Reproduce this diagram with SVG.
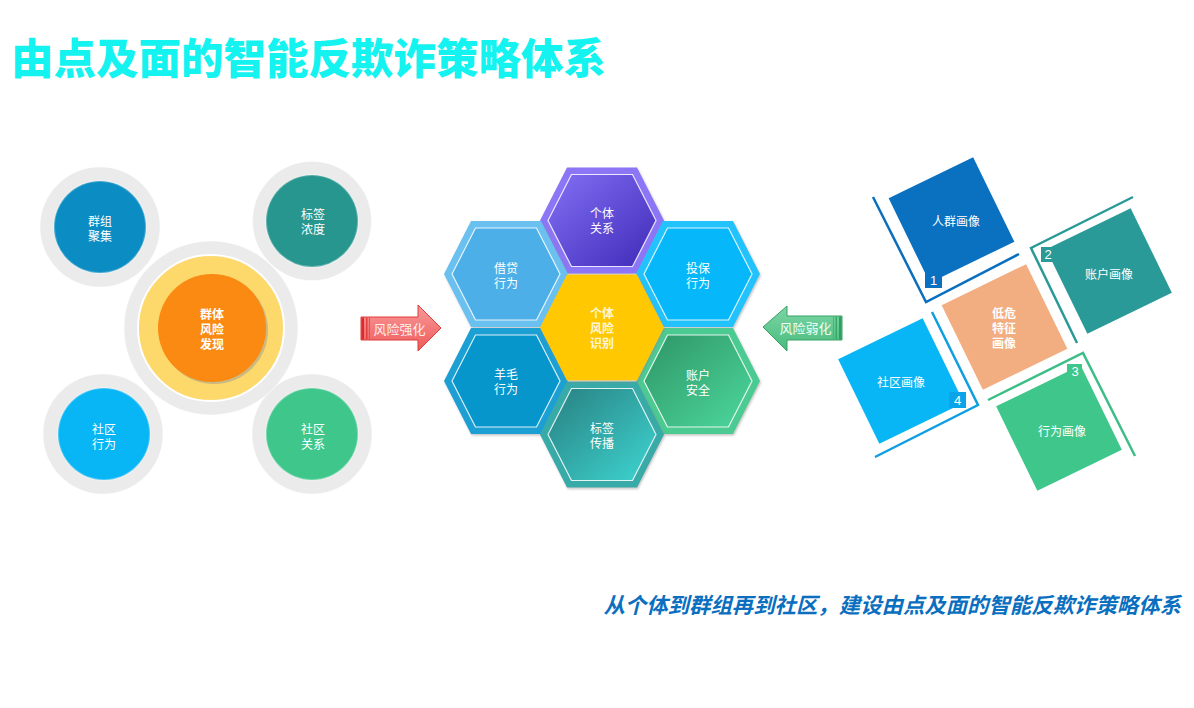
<svg xmlns="http://www.w3.org/2000/svg" width="1194" height="708" viewBox="0 0 1194 708">
<style>
.t{font-family:"Noto Sans CJK SC","Liberation Sans",sans-serif;fill:#fff;text-anchor:middle;dominant-baseline:central}
.s12{font-size:12px}
.b{font-weight:700}
.seam{fill:#EBEBEB;stroke:#fff;stroke-width:1.2;stroke-opacity:.4}
.rim{stroke:#fff;stroke-opacity:.25;stroke-width:2}
.inl{fill:none;stroke:#fff;stroke-opacity:.85;stroke-width:1.2}
.num{font-family:"Liberation Sans","DejaVu Sans",sans-serif;font-size:13px;fill:#fff;text-anchor:middle;dominant-baseline:central}
.br{fill:none;stroke-width:2.5}
</style>
<defs>
<path id="hexO" d="M-62,0 L-35,-53 L35,-53 L62,0 L35,53 L-35,53 Z"/>
<path id="hexI" d="M-54,0 L-30.5,-46 L30.5,-46 L54,0 L30.5,46 L-30.5,46 Z"/>
<rect id="sq" x="-47" y="-47" width="94" height="94"/>
<linearGradient id="gPur" x1="0" y1="0" x2="1" y2="1"><stop offset="0" stop-color="#8270F4"/><stop offset="1" stop-color="#3F2AB8"/></linearGradient>
<linearGradient id="gGrn" x1="0" y1="0" x2="1" y2="1"><stop offset="0" stop-color="#2E9566"/><stop offset="1" stop-color="#4DD89E"/></linearGradient>
<linearGradient id="gTeal" x1="0" y1="0" x2="1" y2="1"><stop offset="0" stop-color="#287F80"/><stop offset="1" stop-color="#3ED6D2"/></linearGradient>
<linearGradient id="gRed" x1="0" y1="0" x2="0" y2="1"><stop offset="0" stop-color="#F89A9A"/><stop offset="1" stop-color="#EF5B5B"/></linearGradient>
<linearGradient id="gGa" x1="0" y1="0" x2="0" y2="1"><stop offset="0" stop-color="#7DD5A4"/><stop offset="1" stop-color="#48BC7E"/></linearGradient>
<filter id="sh" x="-20%" y="-20%" width="140%" height="140%"><feDropShadow dx="1" dy="1.5" stdDeviation="1" flood-color="#888" flood-opacity=".5"/></filter>
</defs>

<text x="11" y="74" style="font-family:'Noto Sans CJK SC','Liberation Sans',sans-serif;font-size:42.5px;font-weight:900;fill:#14F3F0">由点及面的智能反欺诈策略体系</text>

<!-- left cluster -->
<g id="ring-bg">
<circle class="seam" cx="100" cy="227" r="60"/>
<circle class="seam" cx="312" cy="221" r="59.5"/>
<circle class="seam" cx="103" cy="434" r="60"/>
<circle class="seam" cx="312" cy="434" r="60"/>
<circle class="seam" cx="211" cy="328" r="87"/>
</g>
<g id="n-qunti">
<circle cx="211" cy="328" r="73" fill="#FDD86B" stroke="#fff" stroke-width="2"/>
<circle cx="214" cy="330" r="54" fill="#9a9a9a" opacity=".5"/>
<circle cx="212" cy="328" r="54" fill="#FA8A12"/>
<text class="t s12 b" x="212" y="313">群体</text>
<text class="t s12 b" x="212" y="328">风险</text>
<text class="t s12 b" x="212" y="343">发现</text>
</g>
<g id="n-qunzu">
<circle class="rim" cx="100" cy="227" r="46" fill="#0B8DC3"/>
<text class="t s12" x="100" y="220">群组</text>
<text class="t s12" x="100" y="235">聚集</text>
</g>
<g id="n-biaoqian">
<circle class="rim" cx="312" cy="221" r="46" fill="#27968F"/>
<text class="t s12" x="313" y="213">标签</text>
<text class="t s12" x="313" y="228">浓度</text>
</g>
<g id="n-shequxw">
<circle class="rim" cx="104" cy="434" r="46" fill="#08B5F5"/>
<text class="t s12" x="104" y="428">社区</text>
<text class="t s12" x="104" y="443">行为</text>
</g>
<g id="n-shequgx">
<circle class="rim" cx="312" cy="434" r="46" fill="#3FC78B"/>
<text class="t s12" x="313" y="428">社区</text>
<text class="t s12" x="313" y="443">关系</text>
</g>

<!-- hexagons -->
<g id="h-top" transform="translate(602,220.5)">
<use href="#hexO" fill="#8D76F6" filter="url(#sh)"/>
<use href="#hexI" fill="url(#gPur)"/>
<use href="#hexI" class="inl"/>
<text class="t s12" x="0" y="-8">个体</text>
<text class="t s12" x="0" y="7">关系</text>
</g>
<g id="h-ul" transform="translate(506,274)">
<use href="#hexO" fill="#6AC0EF" filter="url(#sh)"/>
<use href="#hexI" fill="#4DAFE8"/>
<use href="#hexI" class="inl"/>
<text class="t s12" x="0" y="-7">借贷</text>
<text class="t s12" x="0" y="8">行为</text>
</g>
<g id="h-ur" transform="translate(698,274)">
<use href="#hexO" fill="#24C3FC" filter="url(#sh)"/>
<use href="#hexI" fill="#06B7F9"/>
<use href="#hexI" class="inl"/>
<text class="t s12" x="0" y="-7">投保</text>
<text class="t s12" x="0" y="8">行为</text>
</g>
<g id="h-ll" transform="translate(506,381)">
<use href="#hexO" fill="#1CA0D3" filter="url(#sh)"/>
<use href="#hexI" fill="#0796CB"/>
<use href="#hexI" class="inl"/>
<text class="t s12" x="0" y="-8">羊毛</text>
<text class="t s12" x="0" y="7">行为</text>
</g>
<g id="h-lr" transform="translate(698,381)">
<use href="#hexO" fill="#4CCB91" filter="url(#sh)"/>
<use href="#hexI" fill="url(#gGrn)"/>
<use href="#hexI" class="inl"/>
<text class="t s12" x="0" y="-7">账户</text>
<text class="t s12" x="0" y="8">安全</text>
</g>
<g id="h-bot" transform="translate(602,434.5)">
<use href="#hexO" fill="#38AAA8" filter="url(#sh)"/>
<use href="#hexI" fill="url(#gTeal)"/>
<use href="#hexI" class="inl"/>
<text class="t s12" x="0" y="-7">标签</text>
<text class="t s12" x="0" y="8">传播</text>
</g>
<g id="h-center" transform="translate(602,327.5)">
<use href="#hexO" fill="#FFC805" filter="url(#sh)"/>
<text class="t s12 b" x="0" y="-15" style="fill:#FFF6D8">个体</text>
<text class="t s12 b" x="0" y="0" style="fill:#FFF6D8">风险</text>
<text class="t s12 b" x="0" y="15" style="fill:#FFF6D8">识别</text>
</g>

<!-- arrows -->
<g id="connectors">
<g id="arrow-red">
<path d="M361,317 L418,317 L418,305 L441,328 L418,351 L418,340 L361,340 Z" fill="url(#gRed)" stroke="#E03A3A" stroke-width="1"/>
<rect x="361.5" y="317.5" width="2.5" height="22" fill="#D92B2B"/>
<rect x="366" y="317.5" width="1.5" height="22" fill="#E04040"/>
<rect x="369" y="317.5" width="1" height="22" fill="#E45050"/>
<text class="t" x="399.5" y="328" style="font-size:13px;fill:#FFEDED">风险强化</text>
</g>
<g id="arrow-green">
<path d="M842,316 L787,316 L787,306 L763,327 L787,351 L787,340 L842,340 Z" fill="url(#gGa)" stroke="#36A365" stroke-width="1"/>
<rect x="839" y="316.5" width="2.5" height="23" fill="#2F9E5E"/>
<rect x="835.5" y="316.5" width="1.5" height="23" fill="#3AAA6A"/>
<rect x="833" y="316.5" width="1" height="23" fill="#45B575"/>
<text class="t" x="805.5" y="327" style="font-size:13px;fill:#F0FFF6">风险弱化</text>
</g>
</g>

<!-- right squares -->
<g id="s-renqun">
<polyline class="br" points="873,197 926,302 1019,254" stroke="#0A6FBE"/>
<use href="#sq" transform="translate(951.5,220) rotate(-26)" fill="#0A70C0"/>
<rect x="925" y="272" width="17" height="16" fill="#0A70C0"/>
<text class="num" x="933.5" y="280.5">1</text>
<text class="t s12" x="956" y="220">人群画像</text>
</g>
<g id="s-zhanghu">
<polyline class="br" points="1133,197 1031,248 1077,343" stroke="#2A9A98"/>
<use href="#sq" transform="translate(1109,271) rotate(-26)" fill="#2A9A98"/>
<rect x="1041" y="247" width="14" height="15" fill="#2A9A98"/>
<text class="num" x="1048" y="254.5">2</text>
<text class="t s12" x="1109" y="273">账户画像</text>
</g>
<g id="s-xingwei">
<polyline class="br" points="988,400 1083,353 1135,456" stroke="#3DBE86"/>
<use href="#sq" transform="translate(1059,428) rotate(-26)" fill="#3FC68A"/>
<rect x="1067" y="364" width="15" height="14" fill="#3FC68A"/>
<text class="num" x="1075" y="371">3</text>
<text class="t s12" x="1062" y="430">行为画像</text>
</g>
<g id="s-shequ">
<polyline class="br" points="932,312 978,405 875,457" stroke="#0F9FE0"/>
<use href="#sq" transform="translate(901,381) rotate(-26)" fill="#08B5F5"/>
<rect x="949" y="392" width="17" height="16" fill="#0AA4EA"/>
<text class="num" x="957.5" y="400">4</text>
<text class="t s12" x="901" y="381">社区画像</text>
</g>
<g id="s-diwei">
<use href="#sq" transform="translate(1004.5,327) rotate(-26)" fill="#F2AE80"/>
<text class="t s12 b" x="1004" y="312">低危</text>
<text class="t s12 b" x="1004" y="327">特征</text>
<text class="t s12 b" x="1004" y="342">画像</text>
</g>

<text x="1181" y="613" style="font-family:'Noto Sans CJK SC','Liberation Sans',sans-serif;font-size:21.4px;font-weight:700;font-style:italic;fill:#0A6FBF;text-anchor:end">从个体到群组再到社区，建设由点及面的智能反欺诈策略体系</text>
</svg>
